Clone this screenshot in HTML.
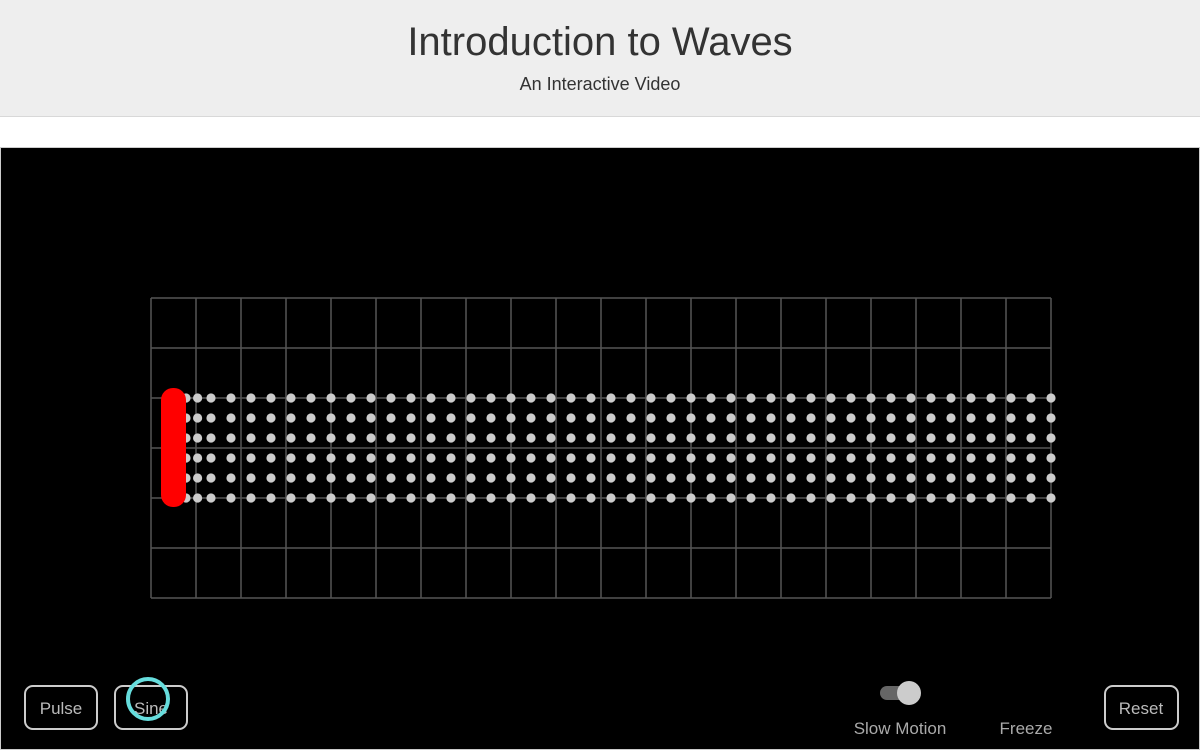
<!DOCTYPE html>
<html><head><meta charset="utf-8"><style>
body{margin:0;width:1200px;height:750px;overflow:hidden;background:#fff;font-family:"Liberation Sans",sans-serif}
#hdr{position:absolute;left:0;top:0;width:1200px;height:116px;background:#eee;border-bottom:1px solid #d8d8d8;text-align:center}
#hdr h1{margin:0;position:absolute;top:20px;width:100%;font-weight:normal;font-size:40px;color:#333}
#hdr p{margin:0;position:absolute;top:74px;width:100%;font-size:18px;color:#333}
svg{position:absolute;left:0;top:147px}
</style></head><body>
<div id="hdr"><h1>Introduction to Waves</h1><p>An Interactive Video</p></div>
<svg id="sim" width="1200" height="603" font-family="'Liberation Sans',sans-serif">
<rect x="0.5" y="0.5" width="1199" height="602" fill="#000" stroke="#ccc"/>
<g id="grid"></g>
<g id="dots"></g>
<rect x="161" y="241" width="25" height="119" rx="12" fill="#f00"/>
<g><rect x="25" y="539" width="72" height="43" rx="8" fill="none" stroke="#ccc" stroke-width="2"/><text x="61" y="567" text-anchor="middle" fill="#bbb" font-size="17">Pulse</text></g>
<g><rect x="115" y="539" width="72" height="43" rx="8" fill="none" stroke="#ccc" stroke-width="2"/><text x="151" y="567" text-anchor="middle" fill="#bbb" font-size="17">Sine</text></g>
<circle cx="148" cy="552" r="20" fill="none" stroke="#6dd" stroke-width="4"/>
<g><rect x="880" y="539" width="30" height="14" rx="7" fill="#666"/><circle cx="909" cy="546" r="12" fill="#ccc"/></g>
<text x="900" y="587" text-anchor="middle" fill="#aaa" font-size="17">Slow Motion</text>
<text x="1026" y="587" text-anchor="middle" fill="#aaa" font-size="17">Freeze</text>
<g><rect x="1105" y="539" width="73" height="43" rx="8" fill="none" stroke="#ccc" stroke-width="2"/><text x="1141" y="567" text-anchor="middle" fill="#bbb" font-size="17">Reset</text></g>
</svg>
<script>
const particleX=[1.75,2.33,3,4,5,6,7,8,9,10,11,12,13,14,15,16,17,18,19,20,21,22,23,24,25,26,27,28,29,30,31,32,33,34,35,36,37,38,39,40,41,42,43,44,45];
const particleRows=[0,1,2,3,4,5];
const NS='http://www.w3.org/2000/svg';
const gx=c=>151+c*45, gy=r=>151+r*50;
const px=v=>151+v*20, py=r=>251+r*20;
const g=document.getElementById('grid');
for(let c=0;c<=20;c++){const l=document.createElementNS(NS,'line');


l.setAttribute('x1',gx(c));l.setAttribute('x2',gx(c));l.setAttribute('y1',gy(0));l.setAttribute('y2',gy(6));l.setAttribute('stroke','#555');l.setAttribute('stroke-width','1.5');g.appendChild(l);}
for(let r=0;r<=6;r++){const l=document.createElementNS(NS,'line');


l.setAttribute('x1',gx(0));l.setAttribute('x2',gx(20));l.setAttribute('y1',gy(r));l.setAttribute('y2',gy(r));l.setAttribute('stroke','#555');l.setAttribute('stroke-width','1.5');g.appendChild(l);}
const d=document.getElementById('dots');
particleRows.forEach(r=>particleX.forEach(v=>{const c=document.createElementNS(NS,'circle');


c.setAttribute('cx',px(v));c.setAttribute('cy',py(r));c.setAttribute('r','4.6');c.setAttribute('fill','#ccc');d.appendChild(c);}));
</script>
</body></html>
